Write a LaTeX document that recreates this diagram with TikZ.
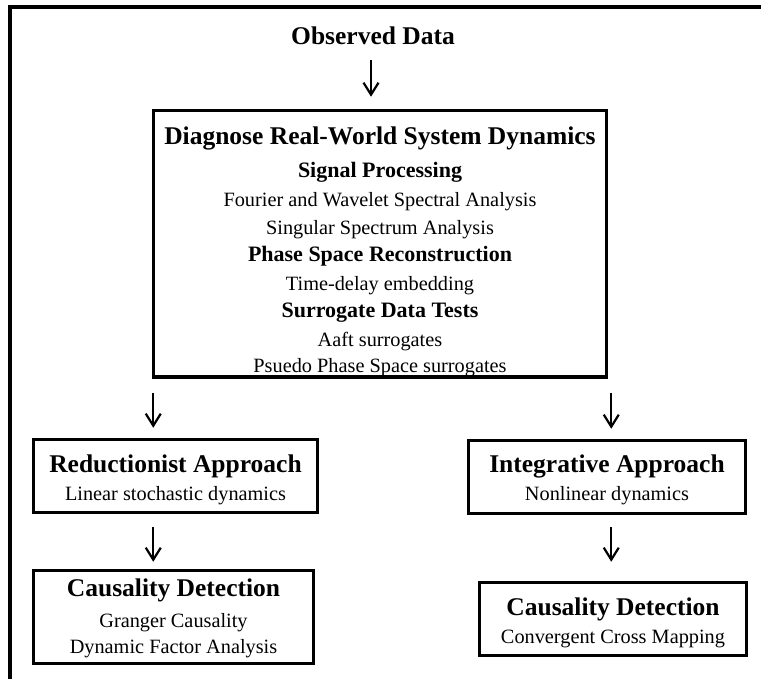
\documentclass[tikz,border=0pt]{standalone}
\usepackage{fontspec}
\setmainfont{Liberation Serif}
\usetikzlibrary{arrows.meta}
\tikzset{
  box/.style={draw, line width=3.5pt, inner sep=0pt},
  hd/.style={anchor=base, inner sep=0pt, font=\fontsize{25.5}{30}\selectfont\bfseries},
  sub/.style={anchor=base, inner sep=0pt, font=\fontsize{22}{26}\selectfont\bfseries},
  body/.style={anchor=base, inner sep=0pt, font=\fontsize{20.3}{24}\selectfont},
  arr/.style={line width=2.2pt, -{Straight Barb[length=12pt,width=15pt]}},
  frameline/.style={line width=3.2pt}
}
\begin{document}
\begin{tikzpicture}[x=1pt,y=-1pt]
\useasboundingbox (0,0) rectangle (761,679);
\draw[frameline] (10,679) -- (10,7) -- (761,7);

% top
\node[hd] (obs) at (373,45) {Observed Data};

% main box
\node[box, minimum width=453pt, minimum height=266.5pt] (diag) at (380,243.75) {};
\node[hd]   (d1) at (380,145) {Diagnose Real-World System Dynamics};
\node[sub]  (d2) at (380,178) {Signal Processing};
\node[body] (d3) at (380,207) {Fourier and Wavelet Spectral Analysis};
\node[body] (d4) at (380,235) {Singular Spectrum Analysis};
\node[sub]  (d5) at (380,262) {Phase Space Reconstruction};
\node[body] (d6) at (380,291) {Time-delay embedding};
\node[sub]  (d7) at (380,318) {Surrogate Data Tests};
\node[body] (d8) at (380,347) {Aaft surrogates};
\node[body] (d9) at (380,372) {Psuedo Phase Space surrogates};

% left branch
\node[box, minimum width=284pt, minimum height=73pt] (redu) at (175.5,476) {};
\node[hd]   (r1) at (175.5,472) {Reductionist Approach};
\node[body] (r2) at (175.5,500) {Linear stochastic dynamics};

\node[box, minimum width=280pt, minimum height=93pt] (causl) at (173.5,617) {};
\node[hd]   (c1) at (173.5,596) {Causality Detection};
\node[body] (c2) at (173.5,627) {Granger Causality};
\node[body] (c3) at (173.5,653) {Dynamic Factor Analysis};

% right branch
\node[box, minimum width=277pt, minimum height=73pt] (integ) at (607,477) {};
\node[hd]   (i1) at (607,472) {Integrative Approach};
\node[body] (i2) at (607,500) {Nonlinear dynamics};

\node[box, minimum width=267pt, minimum height=73pt] (causr) at (613,619) {};
\node[hd]   (k1) at (613,615) {Causality Detection};
\node[body] (k2) at (613,643) {Convergent Cross Mapping};

% arrows
\draw[arr, shorten <=15pt, shorten >=12pt] ([xshift=-2pt]obs.south) -- ([xshift=-2pt]obs.south |- diag.north);
\draw[arr, shorten <=14pt, shorten >=10pt] ([xshift=1.5pt]diag.south west) -- ([xshift=1.5pt]diag.south west |- redu.north);
\draw[arr, shorten <=14pt, shorten >=10pt] ([xshift=3pt]diag.south east) -- ([xshift=3pt]diag.south east |- integ.north);
\draw[arr, shorten <=13pt, shorten >=7pt] ([xshift=1.5pt]diag.south west |- redu.south) -- ([xshift=1.5pt]diag.south west |- causl.north);
\draw[arr, shorten <=12pt, shorten >=19pt] ([xshift=3pt]diag.south east |- integ.south) -- ([xshift=3pt]diag.south east |- causr.north);
\end{tikzpicture}
\end{document}
